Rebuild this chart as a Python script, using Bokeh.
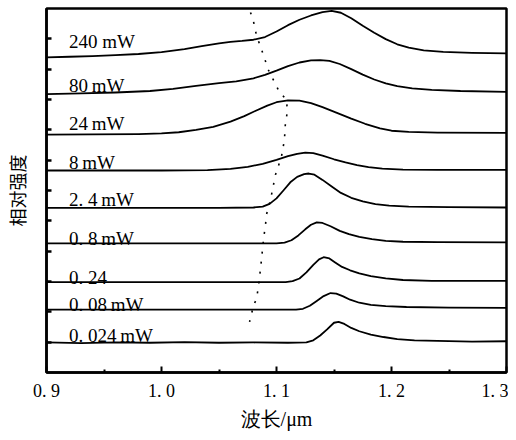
from bokeh.plotting import figure
from bokeh.models import Range1d, FixedTicker, ColumnDataSource
from bokeh.core.properties import value
from bokeh.embed import file_html
from bokeh.resources import INLINE

# ---- axis ticks ----
x_ticks = [0.9, 1.0, 1.1, 1.2, 1.3]
x_tick_labels = ["0. 9", "1. 0", "1. 1", "1. 2", "1. 3"]
x_minor_ticks = [0.95, 1.05, 1.15, 1.25]
y_ticks = [1, 2, 3, 4, 5, 6, 7, 8, 9, 10, 11]

# ---- spectra (wavelength in um, relative intensity with vertical offset) ----
wl_240 = [0.900, 0.920, 0.940, 0.960, 0.980, 1.000, 1.020, 1.035, 1.050, 1.060, 1.070, 1.080, 1.090, 1.100,
          1.110, 1.120, 1.130, 1.140, 1.148, 1.156, 1.165, 1.175, 1.185, 1.195, 1.205, 1.215, 1.228, 1.245,
          1.270, 1.300]
y_240 = [10.39, 10.41, 10.43, 10.46, 10.50, 10.56, 10.66, 10.76, 10.85, 10.90, 10.93, 10.97, 11.06, 11.24,
         11.45, 11.63, 11.77, 11.88, 11.92, 11.86, 11.68, 11.43, 11.20, 10.99, 10.82, 10.71, 10.62, 10.57,
         10.54, 10.52]

wl_80 = [0.900, 0.930, 0.960, 0.990, 1.010, 1.030, 1.050, 1.065, 1.080, 1.090, 1.100, 1.110, 1.120, 1.130,
         1.138, 1.146, 1.155, 1.165, 1.175, 1.185, 1.195, 1.205, 1.218, 1.235, 1.260, 1.300]
y_80 = [9.18, 9.20, 9.23, 9.28, 9.35, 9.45, 9.54, 9.60, 9.70, 9.81, 9.95, 10.10, 10.22, 10.29,
        10.30, 10.27, 10.17, 10.00, 9.82, 9.66, 9.53, 9.44, 9.37, 9.32, 9.28, 9.25]

wl_24 = [0.900, 0.940, 0.980, 1.000, 1.015, 1.030, 1.045, 1.060, 1.072, 1.082, 1.092, 1.100, 1.110, 1.120,
         1.130, 1.140, 1.152, 1.165, 1.177, 1.190, 1.200, 1.215, 1.240, 1.300]
y_24 = [7.84, 7.85, 7.86, 7.88, 7.92, 8.00, 8.10, 8.27, 8.45, 8.63, 8.80, 8.91, 8.97, 8.96,
        8.88, 8.75, 8.57, 8.37, 8.20, 8.05, 7.97, 7.93, 7.91, 7.90]

wl_8 = [0.900, 0.950, 1.000, 1.040, 1.060, 1.075, 1.088, 1.100, 1.110, 1.118, 1.125, 1.132, 1.140, 1.150,
        1.160, 1.170, 1.180, 1.192, 1.210, 1.240, 1.300]
y_8 = [6.66, 6.66, 6.66, 6.67, 6.71, 6.78, 6.88, 7.01, 7.13, 7.21, 7.25, 7.23, 7.15, 7.03,
       6.93, 6.84, 6.77, 6.72, 6.69, 6.68, 6.68]

wl_2_4 = [0.900, 0.950, 1.000, 1.050, 1.080, 1.088, 1.094, 1.100, 1.106, 1.112, 1.118, 1.124, 1.128, 1.133,
          1.140, 1.148, 1.156, 1.165, 1.175, 1.186, 1.198, 1.215, 1.250, 1.300]
y_2_4 = [5.43, 5.43, 5.43, 5.43, 5.44, 5.47, 5.56, 5.74, 6.00, 6.27, 6.45, 6.54, 6.56, 6.52,
         6.35, 6.13, 5.92, 5.76, 5.64, 5.55, 5.50, 5.47, 5.45, 5.44]

wl_0_8 = [0.900, 0.950, 1.000, 1.050, 1.100, 1.107, 1.113, 1.119, 1.125, 1.130, 1.135, 1.140, 1.147, 1.155,
          1.163, 1.172, 1.183, 1.195, 1.210, 1.240, 1.300]
y_0_8 = [4.26, 4.26, 4.26, 4.26, 4.26, 4.28, 4.36, 4.52, 4.72, 4.87, 4.95, 4.93, 4.82, 4.67,
         4.56, 4.47, 4.40, 4.34, 4.31, 4.30, 4.29]

wl_0_24 = [0.900, 0.950, 1.000, 1.050, 1.108, 1.114, 1.120, 1.126, 1.132, 1.137, 1.141, 1.146, 1.151, 1.157,
           1.164, 1.172, 1.182, 1.195, 1.210, 1.235, 1.300]
y_0_24 = [2.98, 2.98, 2.98, 2.98, 2.98, 3.01, 3.10, 3.30, 3.55, 3.73, 3.80, 3.76, 3.63, 3.48,
          3.37, 3.27, 3.18, 3.10, 3.05, 3.02, 3.02]

wl_0_08 = [0.900, 0.950, 1.000, 1.050, 1.100, 1.117, 1.123, 1.129, 1.135, 1.141, 1.147, 1.152, 1.158, 1.164,
           1.172, 1.182, 1.195, 1.213, 1.250, 1.300]
y_0_08 = [2.07, 2.07, 2.07, 2.07, 2.07, 2.07, 2.10, 2.20, 2.36, 2.52, 2.62, 2.60, 2.51, 2.40,
          2.30, 2.23, 2.19, 2.16, 2.14, 2.13]

wl_0_024 = [0.900, 0.930, 0.960, 0.990, 1.020, 1.050, 1.080, 1.110, 1.126, 1.132, 1.138, 1.144, 1.150, 1.154,
            1.159, 1.165, 1.172, 1.182, 1.193, 1.205, 1.220, 1.240, 1.270, 1.300]
y_0_024 = [0.99, 0.97, 0.99, 0.98, 1.00, 0.98, 0.99, 0.98, 0.99, 1.06, 1.22, 1.42, 1.64, 1.67,
           1.60, 1.47, 1.36, 1.25, 1.17, 1.10, 1.06, 1.04, 1.02, 1.03]

# ---- dotted guide through the peak positions ----
dot_wl = [1.0774, 1.0800, 1.0826, 1.0878, 1.0930, 1.1017, 1.1087, 1.1095, 1.1078, 1.1069, 1.1043,
          1.0991, 1.0948, 1.0913, 1.0905, 1.0887, 1.0870, 1.0844, 1.0826, 1.0800, 1.0766]
dot_y = [11.87, 11.57, 11.11, 10.56, 9.97, 9.31, 8.98, 8.59, 8.26, 7.67, 7.11,
         6.52, 5.70, 5.21, 4.89, 4.39, 3.74, 2.85, 2.43, 2.20, 1.67]

# ---- power labels ----
power_labels = ["240 mW", "80\u2009mW", "24\u2009mW", "8\u2009mW", "2. 4\u2009mW", "0. 8\u2009mW",
                "0. 24", "0. 08\u2009mW", "0. 024\u2009mW"]
label_x = 0.9195
label_y = [10.92, 9.475, 8.197, 6.918, 5.705, 4.426, 3.148, 2.230, 1.213]

curves = [(wl_240, y_240), (wl_80, y_80), (wl_24, y_24), (wl_8, y_8), (wl_2_4, y_2_4),
          (wl_0_8, y_0_8), (wl_0_24, y_0_24), (wl_0_08, y_0_08), (wl_0_024, y_0_024)]

p = figure(width=508, height=432, output_backend="svg", toolbar_location=None,
           x_range=Range1d(0.9, 1.3), y_range=Range1d(0, 12),
           min_border_left=45, min_border_right=2, min_border_top=8, min_border_bottom=58)
p.background_fill_color = "white"
p.border_fill_color = "white"
p.outline_line_color = "black"
p.outline_line_width = 2.5
p.xgrid.visible = False
p.ygrid.visible = False

for wl, yy in curves:
    p.line(wl, yy, line_color="black", line_width=1.8, line_join="round")

p.line(dot_wl, dot_y, line_color="black", line_width=1.6, line_dash="2 8")

src = ColumnDataSource(dict(x=[label_x] * len(power_labels), y=label_y, t=power_labels))
p.text(x="x", y="y", text="t", source=src, text_font=value("Liberation Serif"),
       text_font_size="19px", text_color="black", text_baseline="alphabetic", text_align="left")

# x axis
xa = p.xaxis[0]
xa.ticker = FixedTicker(ticks=x_ticks, minor_ticks=x_minor_ticks)
xa.major_label_overrides = dict(zip(x_ticks, x_tick_labels))
xa.major_tick_in = 6
xa.major_tick_out = 0
xa.minor_tick_in = 3
xa.minor_tick_out = 0
xa.major_tick_line_width = 2
xa.minor_tick_line_width = 2
xa.axis_line_width = 2.5
xa.major_label_text_font = "Liberation Serif"
xa.major_label_text_font_size = "18px"
xa.major_label_text_color = "black"
xa.major_label_standoff = 8
xa.axis_label = "波长/μm"
xa.axis_label_text_font = "Liberation Serif"
xa.axis_label_text_font_size = "20px"
xa.axis_label_text_font_style = "normal"
xa.axis_label_text_color = "black"
xa.axis_label_standoff = 4

# y axis: ticks only (no numbers), label rotated
ya = p.yaxis[0]
ya.ticker = FixedTicker(ticks=[], minor_ticks=y_ticks)
ya.major_tick_in = 0
ya.major_tick_out = 0
ya.minor_tick_in = 5
ya.minor_tick_out = 0
ya.minor_tick_line_width = 2.5
ya.axis_line_width = 2.5
ya.major_label_standoff = 0
ya.axis_label = "相对强度"
ya.axis_label_text_font = "Noto Sans CJK SC"
ya.axis_label_text_font_size = "18px"
ya.axis_label_text_font_style = "normal"
ya.axis_label_text_color = "black"
ya.axis_label_standoff = 17

open("out.html", "w").write(file_html(p, INLINE))
